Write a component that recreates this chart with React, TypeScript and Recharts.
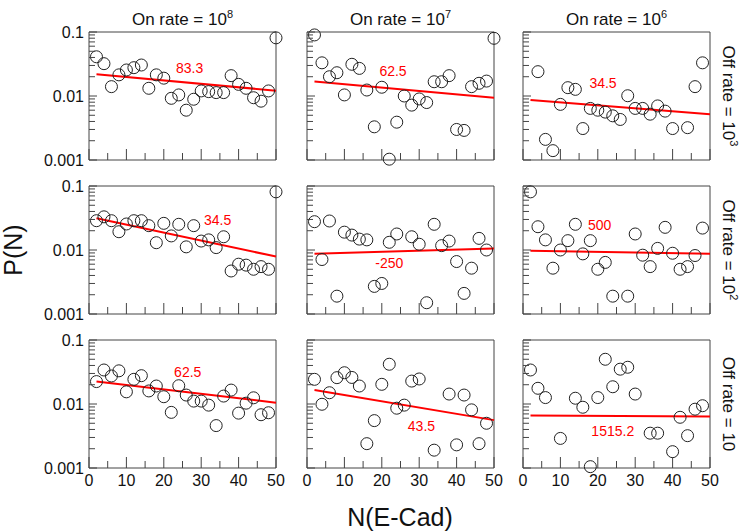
import React from 'react';
import { ComposedChart, Scatter, Line, XAxis, YAxis, ReferenceArea, ReferenceDot } from 'recharts';

// number of E-Cad molecules (x positions of the points)
const N = [2, 4, 6, 8, 10, 12, 14, 16, 18, 20, 22, 24, 26, 28, 30, 32, 34, 36, 38, 40, 42, 44, 46, 48, 50];

// P(N) per panel, null where no point is drawn
const on8Off3 = [0.041, 0.032, 0.014, 0.0214, 0.0255, 0.0277, 0.0305, 0.0132, 0.0214, 0.019, 0.0092, 0.0104, 0.006, 0.0089, 0.012, 0.0117, 0.0113, 0.0113, 0.0208, 0.0152, 0.0132, 0.0094, 0.0083, 0.012, 0.081];
const on7Off3 = [0.09, 0.033, 0.02, 0.0231, 0.0104, 0.0313, 0.027, 0.0124, 0.0033, 0.0137, 0.00103, 0.0039, 0.01, 0.0072, 0.009, 0.0079, 0.0167, 0.0167, 0.0208, 0.003, 0.0029, 0.014, 0.0158, 0.0171, 0.0797];
const on6Off3 = [null, 0.024, 0.0021, 0.0014, 0.0074, 0.0135, 0.0127, 0.0031, 0.0064, 0.006, 0.0056, 0.0049, 0.0043, 0.0101, 0.0064, 0.0064, 0.0052, 0.007, 0.0058, 0.0031, null, 0.0032, 0.014, 0.033, null];

const on8Off2 = [0.0287, 0.033, 0.0287, 0.0193, 0.0255, 0.0287, 0.0287, 0.024, 0.013, 0.0261, 0.0166, 0.0252, 0.0112, 0.024, 0.0138, 0.0144, 0.0109, 0.0161, 0.0047, 0.006, 0.0058, 0.005, 0.0055, 0.005, 0.081];
const on7Off2 = [0.0277, 0.0071, 0.0284, 0.0019, 0.019, 0.0171, 0.0148, 0.0144, 0.0027, 0.003, 0.0132, 0.0178, null, 0.0161, 0.0123, 0.0015, 0.0252, 0.0117, 0.0138, 0.0066, 0.0021, 0.0052, 0.0152, 0.01, null];
const on6Off2 = [0.081, 0.0231, 0.0144, 0.0052, 0.01, 0.014, 0.0252, 0.0087, 0.014, 0.005, 0.0064, 0.0019, null, 0.0019, 0.0178, 0.0083, 0.0055, 0.0106, 0.0226, 0.0089, 0.005, 0.0055, 0.0082, 0.022, null];

const on8Off1 = [0.0224, 0.034, 0.0274, 0.033, 0.0155, 0.0243, 0.0277, 0.016, 0.0191, 0.013, 0.0074, 0.0193, 0.0138, 0.0111, 0.0111, 0.0096, 0.0046, 0.0133, 0.0165, 0.0072, 0.0103, 0.0125, 0.0068, 0.0073, null];
const on7Off1 = [0.0243, 0.0099, 0.015, 0.0258, 0.0308, 0.026, 0.0191, 0.0024, 0.0055, 0.0203, 0.0418, 0.0086, 0.0096, 0.0228, 0.0246, null, 0.0019, null, 0.0143, 0.0023, 0.0138, 0.0081, 0.0024, 0.005, null];
const on6Off1 = [0.034, 0.0176, 0.0126, null, 0.0029, null, 0.0123, 0.0089, 0.00105, 0.0126, 0.05, 0.0186, 0.035, 0.0375, 0.0143, null, 0.0035, 0.0035, null, 0.0018, 0.0062, 0.0032, 0.0083, 0.0094, null];

// exponential fit, value at first and last N
const fitN = [2, 50];
const fits = [
  [0.0218, 0.0121], [0.0168, 0.0094], [0.00866, 0.0052],
  [0.0313, 0.0079], [0.0087, 0.0106], [0.0097, 0.0087],
  [0.0224, 0.0105], [0.0165, 0.0056], [0.0066, 0.0064],
];
const fitLabels = ['83.3', '62.5', '34.5', '34.5', '-250', '500', '62.5', '43.5', '1515.2'];
// where each fit label sits (data coords)
const labelAt = [
  [26.9, 0.027], [23, 0.0245], [21.4, 0.0158],
  [34.4, 0.0294], [22, 0.0062], [20.5, 0.0245],
  [26.4, 0.032], [30.6, 0.0045], [24, 0.0038],
];

const onRates = ['8', '7', '6'];
const offRates = ['3', '2', ''];

const xTicks = [0, 5, 10, 15, 20, 25, 30, 35, 40, 45, 50];
const yTicks = [0.001, 0.002, 0.003, 0.004, 0.005, 0.006, 0.007, 0.008, 0.009, 0.01, 0.02, 0.03, 0.04, 0.05, 0.06, 0.07, 0.08, 0.09, 0.1];

const panels = [on8Off3, on7Off3, on6Off3, on8Off2, on7Off2, on6Off2, on8Off1, on7Off1, on6Off1];

const FONT = '"Liberation Sans", Arial, Helvetica, sans-serif';
const AXIS = '#444';
const colLeft = [89, 307, 523];
const rowTop = [32, 186, 340];
const PW = 187;
const PH = 128;
const Y_W = 50;
const X_H = 28;
const M_TOP = 10;
const M_R = 10;

const isDecade = (v: number) => Math.abs(Math.log10(v) - Math.round(Math.log10(v))) < 1e-6;

const Ring = (props: any) => (
  <circle cx={props.cx} cy={props.cy} r={6} fill="none" stroke="#222" strokeWidth={1} />
);

function Panel({ idx }: { idx: number }) {
  const r = Math.floor(idx / 3);
  const c = idx % 3;
  const pts = N.map((n, i) => ({ n, p: panels[idx][i] })).filter((d) => d.p != null);
  const fit = fitN.map((n, i) => ({ n, p: fits[idx][i] }));
  const showX = r === 2;
  const showY = c === 0;

  const xTick = (p: any) => {
    const major = p.payload.value % 10 === 0;
    return (
      <g>
        <line x1={p.x} x2={p.x} y1={p.y} y2={p.y - (major ? 11 : 7)} stroke={AXIS} />
        {showX && major && (
          <text x={p.x} y={p.y + 18} textAnchor="middle" fontSize={16} fontFamily={FONT} fill="#111">
            {p.payload.value}
          </text>
        )}
      </g>
    );
  };
  const yTick = (p: any) => {
    const major = isDecade(p.payload.value);
    return (
      <g>
        <line x1={p.x} x2={p.x + (major ? 8 : 6)} y1={p.y} y2={p.y} stroke={AXIS} />
        {showY && major && (
          <text x={p.x - 5} y={p.y + 5.5} textAnchor="end" fontSize={16} fontFamily={FONT} fill="#111">
            {String(p.payload.value)}
          </text>
        )}
      </g>
    );
  };

  return (
    <div style={{ position: 'absolute', left: colLeft[c] - Y_W, top: rowTop[r] - M_TOP }}>
      <ComposedChart
        width={Y_W + PW + M_R}
        height={M_TOP + PH + X_H}
        margin={{ top: M_TOP, right: M_R, bottom: 0, left: 0 }}
      >
        <XAxis
          type="number"
          dataKey="n"
          domain={[0, 50]}
          ticks={xTicks}
          interval={0}
          height={X_H}
          axisLine={false}
          tickLine={false}
          tickSize={0}
          tickMargin={0}
          tick={xTick}
        />
        <YAxis
          type="number"
          dataKey="p"
          scale="log"
          domain={[0.001, 0.1]}
          ticks={yTicks}
          interval={0}
          width={Y_W}
          axisLine={false}
          tickLine={false}
          tickSize={0}
          tickMargin={0}
          tick={yTick}
        />
        <ReferenceArea x1={0} x2={50} y1={0.001} y2={0.1} fill="none" fillOpacity={0} stroke={AXIS} strokeWidth={1} />
        <Scatter data={pts} dataKey="p" shape={Ring} isAnimationActive={false} />
        <Line data={fit} dataKey="p" stroke="#f00" strokeWidth={2} dot={false} isAnimationActive={false} />
        <ReferenceDot
          x={labelAt[idx][0]}
          y={labelAt[idx][1]}
          r={0}
          fill="none"
          stroke="none"
          label={{ value: fitLabels[idx], position: 'center', fill: '#f00', fontSize: 14, fontFamily: FONT }}
        />
      </ComposedChart>
    </div>
  );
}

export default function App() {
  return (
    <div style={{ position: 'relative', width: 743, height: 531, background: '#fff', fontFamily: FONT, color: '#111' }}>
      <style>{'body{margin:0}'}</style>
      {panels.map((_, i) => (
        <Panel key={i} idx={i} />
      ))}
      {onRates.map((e, c) => (
        <div
          key={'on' + c}
          style={{ position: 'absolute', left: colLeft[c] + PW / 2, top: 9, transform: 'translateX(-50%)', fontSize: 17, whiteSpace: 'nowrap', lineHeight: '22px' }}
        >
          On rate = 10<sup style={{ fontSize: 11, verticalAlign: 'top', position: 'relative', top: -6 }}>{e}</sup>
        </div>
      ))}
      {offRates.map((e, r) => (
        <div
          key={'off' + r}
          style={{ position: 'absolute', left: 728, top: rowTop[r] + PH / 2, transform: 'translate(-50%,-50%) rotate(90deg)', fontSize: 17, whiteSpace: 'nowrap', lineHeight: '20px' }}
        >
          Off rate = 10
          {e && <sup style={{ fontSize: 11, verticalAlign: 'top', position: 'relative', top: -6 }}>{e}</sup>}
        </div>
      ))}
      <div style={{ position: 'absolute', left: 13, top: 250, transform: 'translate(-50%,-50%) rotate(-90deg)', fontSize: 25, whiteSpace: 'nowrap' }}>
        P(N)
      </div>
      <div style={{ position: 'absolute', left: 400, top: 517, transform: 'translate(-50%,-50%)', fontSize: 25, whiteSpace: 'nowrap' }}>
        N(E-Cad)
      </div>
    </div>
  );
}
